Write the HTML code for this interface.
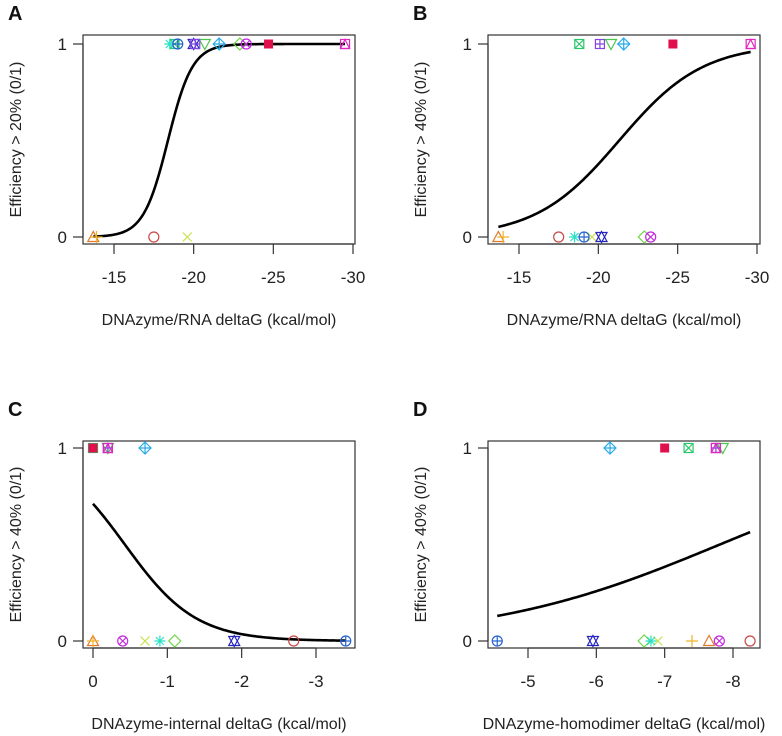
<!DOCTYPE html>
<html><head><meta charset="utf-8"><style>
body{margin:0;background:#fff;}
svg{display:block;font-family:"Liberation Sans",sans-serif;}
</style></head><body>
<svg id="fig" width="782" height="736" viewBox="0 0 782 736"></svg>
<script>
// Sample values per panel (index i -> pch i+1)
const pchList = [1,2,3,4,5,6,7,8,9,10,11,12,13,14,15];
const aX = [-17.5,-13.7,-13.9,-19.6,-22.9,-20.7,-18.8,-18.5,-21.6,-19.0,-20.0,-20.1,-23.3,-29.5,-24.7];
const aY = [0,0,0,0,1,1,1,1,1,1,1,1,1,1,1];
const bX = [-17.5,-13.7,-14.0,-19.6,-22.9,-20.8,-18.8,-18.5,-21.6,-19.1,-20.2,-20.1,-23.3,-29.6,-24.7];
const bY = [0,0,0,0,0,1,1,0,1,0,0,1,0,1,1];
const cX = [-2.7,0,0,-0.7,-1.1,-0.2,0,-0.9,-0.7,-3.4,-1.9,-0.2,-0.4,-0.2,0];
const cY = [0,0,0,0,0,1,1,0,1,0,0,1,0,1,1];
const dX = [-8.25,-7.65,-7.4,-6.9,-6.7,-7.85,-7.35,-6.8,-6.2,-4.55,-5.95,-7.75,-7.8,-7.75,-7.0];
const dY = [0,0,0,0,0,1,1,0,1,0,0,1,0,1,1];
// logistic fit params: p = 1/(1+exp(-(a + b*x)))
const fitA = [-23.9, -1.3];
const fitB = [-8.1, -0.38];
const fitC = [0.9, 2.1];
const fitD = [-4.56, -0.584];
const ticksA = [-15,-20,-25,-30];
const ticksB = [-15,-20,-25,-30];
const ticksC = [0,-1,-2,-3];
const ticksD = [-5,-6,-7,-8];
const colors = {1:"#c84848",2:"#e07a28",3:"#f0b428",4:"#c8e048",5:"#70d448",6:"#48c848",7:"#28c868",8:"#28e0c4",9:"#28aae8",10:"#2864d0",11:"#2424c0",12:"#8444e0",13:"#c428e0",14:"#e028c0",15:"#e0104c"};

const NS="http://www.w3.org/2000/svg";
const svg=document.getElementById('fig');
function el(tag,attrs,parent){const e=document.createElementNS(NS,tag);for(const k in attrs)e.setAttribute(k,attrs[k]);(parent||svg).appendChild(e);return e;}

function marker(g,pch,cx,cy,col){
  const r=5, s=4.5;
  const st={fill:"none",stroke:col,"stroke-width":1.2};
  const sq=()=>el('rect',Object.assign({x:cx-s,y:cy-s,width:2*s,height:2*s},st),g);
  const ci=()=>el('circle',Object.assign({cx:cx,cy:cy,r:r},st),g);
  const plus=(k)=>el('path',Object.assign({d:`M${cx-k},${cy}H${cx+k}M${cx},${cy-k}V${cy+k}`},st),g);
  const xx=(k)=>el('path',Object.assign({d:`M${cx-k},${cy-k}L${cx+k},${cy+k}M${cx-k},${cy+k}L${cx+k},${cy-k}`},st),g);
  const triU=()=>el('path',Object.assign({d:`M${cx},${cy-r-0.5}L${cx+r+0.5},${cy+s}L${cx-r-0.5},${cy+s}Z`},st),g);
  const triD=()=>el('path',Object.assign({d:`M${cx},${cy+r+0.5}L${cx+r+0.5},${cy-s}L${cx-r-0.5},${cy-s}Z`},st),g);
  const dia=()=>el('path',Object.assign({d:`M${cx},${cy-r-1}L${cx+r+1},${cy}L${cx},${cy+r+1}L${cx-r-1},${cy}Z`},st),g);
  switch(pch){
    case 1:ci();break;
    case 2:triU();break;
    case 3:plus(6);break;
    case 4:xx(4.5);break;
    case 5:dia();break;
    case 6:triD();break;
    case 7:sq();xx(s);break;
    case 8:plus(5.5);xx(4);break;
    case 9:dia();plus(r+1);break;
    case 10:ci();plus(r);break;
    case 11:triU();triD();break;
    case 12:sq();plus(s);break;
    case 13:ci();xx(3.5);break;
    case 14:sq();el('path',Object.assign({d:`M${cx},${cy-s}L${cx+s},${cy+s}L${cx-s},${cy+s}Z`},st),g);break;
    case 15:el('rect',{x:cx-s,y:cy-s,width:2*s,height:2*s,fill:col},g);break;
  }
}

function panel(p){
  const g=el('g',{});
  
  
  const xs=v=>p.px0+(v-p.v0)*(p.px1-p.px0)/(p.v1-p.v0);
  const ys=v=>p.y0+(p.y1-p.y0)*v;
  const lt=el('text',{x:p.lx,y:p.ly,"font-size":20,"font-weight":"bold",fill:"#111"},g);lt.textContent=p.letter;
  
  const box=el('rect',{x:p.L,y:p.T,width:p.R-p.L,height:p.B-p.T,fill:"none",stroke:"#333","stroke-width":1.2},g);
  
  const xa=el('g',{},g);
  el('line',{x1:xs(p.ticks[0]),x2:xs(p.ticks[p.ticks.length-1]),y1:p.B,y2:p.B,stroke:"#333","stroke-width":1.2},xa);
  p.ticks.forEach(t=>{
    el('line',{x1:xs(t),x2:xs(t),y1:p.B,y2:p.B+10,stroke:"#333","stroke-width":1.2},xa);
    const tx=el('text',{x:xs(t),y:p.B+39,"font-size":17,"text-anchor":"middle",fill:"#222"},xa);tx.textContent=String(t);
    
  });
  const ya=el('g',{},g);
  el('line',{x1:p.L,x2:p.L,y1:ys(0),y2:ys(1),stroke:"#333","stroke-width":1.2},ya);
  [0,1].forEach(t=>{
    el('line',{x1:p.L-10,x2:p.L,y1:ys(t),y2:ys(t),stroke:"#333","stroke-width":1.2},ya);
    const tx=el('text',{x:p.L-16,y:ys(t)+6,"font-size":17,"text-anchor":"end",fill:"#222"},ya);tx.textContent=String(t);
    
  });
  const xt=el('text',{x:(p.L+p.R)/2,y:p.B+81,"font-size":16,"text-anchor":"middle",fill:"#222"},g);xt.textContent=p.xtitle;
  
  const cyT=(p.T+p.B)/2, cxT=p.L-62;
  const yt=el('text',{x:cxT,y:cyT,"font-size":16,"text-anchor":"middle",fill:"#222",transform:`rotate(-90 ${cxT} ${cyT})`},g);yt.textContent=p.ytitle;
  
  const mn=Math.max(...p.X), mx=Math.min(...p.X);
  let d="";
  for(let i=0;i<=200;i++){const v=mn+(mx-mn)*i/200;const pr=1/(1+Math.exp(-(p.fit[0]+p.fit[1]*v)));d+=(i?"L":"M")+xs(v).toFixed(2)+","+ys(pr).toFixed(2);}
  const cv=el('path',{d:d,fill:"none",stroke:"#000","stroke-width":2.6},g);
  
  p.X.forEach((v,i)=>{
    const mg=el('g',{},g);
    
    
    marker(mg,pchList[i],xs(v),ys(p.Y[i]),colors[pchList[i]]);
  });
}
const yTop=44,yBot=237,yTop2=448,yBot2=641;
panel({letter:"A",lx:8,ly:20,L:83,R:355,T:35,B:244,px0:114,v0:-15,px1:353,v1:-30,y0:yBot,y1:yTop,ticks:ticksA,X:aX,Y:aY,fit:fitA,xtitle:"DNAzyme/RNA deltaG (kcal/mol)",ytitle:"Efficiency > 20% (0/1)"});
panel({letter:"B",lx:413,ly:20,L:488,R:760,T:35,B:244,px0:519,v0:-15,px1:757,v1:-30,y0:yBot,y1:yTop,ticks:ticksB,X:bX,Y:bY,fit:fitB,xtitle:"DNAzyme/RNA deltaG (kcal/mol)",ytitle:"Efficiency > 40% (0/1)"});
panel({letter:"C",lx:8,ly:416,L:83,R:355,T:441,B:648,px0:93,v0:0,px1:316,v1:-3,y0:yBot2,y1:yTop2,ticks:ticksC,X:cX,Y:cY,fit:fitC,xtitle:"DNAzyme-internal deltaG (kcal/mol)",ytitle:"Efficiency > 40% (0/1)"});
panel({letter:"D",lx:413,ly:416,L:488,R:760,T:441,B:648,px0:528,v0:-5,px1:733,v1:-8,y0:yBot2,y1:yTop2,ticks:ticksD,X:dX,Y:dY,fit:fitD,xtitle:"DNAzyme-homodimer deltaG (kcal/mol)",ytitle:"Efficiency > 40% (0/1)"});
</script>
</body></html>
